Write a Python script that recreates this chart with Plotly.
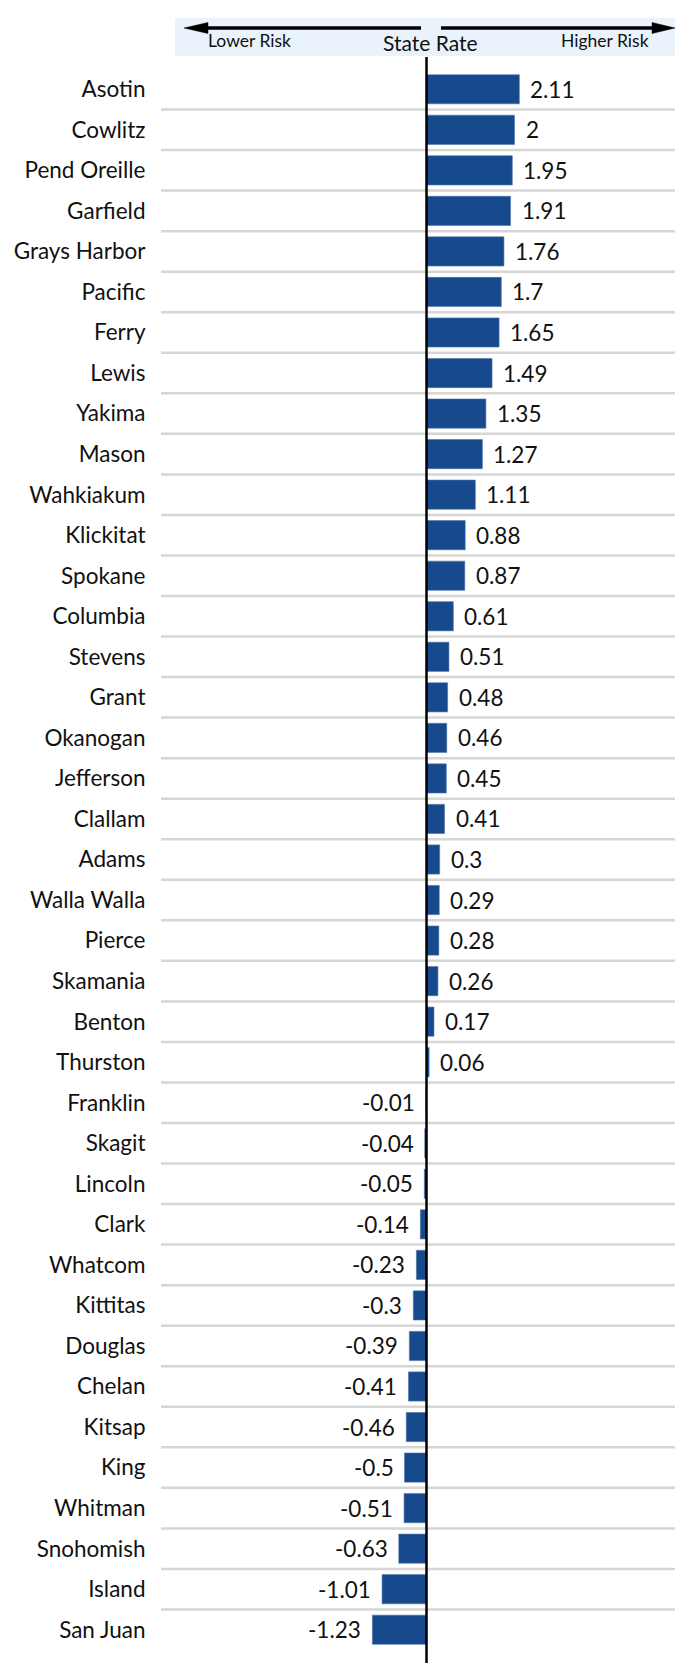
import plotly.graph_objects as go

counties = ["Asotin", "Cowlitz", "Pend Oreille", "Garfield", "Grays Harbor", "Pacific", "Ferry",
            "Lewis", "Yakima", "Mason", "Wahkiakum", "Klickitat", "Spokane", "Columbia", "Stevens",
            "Grant", "Okanogan", "Jefferson", "Clallam", "Adams", "Walla Walla", "Pierce", "Skamania",
            "Benton", "Thurston", "Franklin", "Skagit", "Lincoln", "Clark", "Whatcom", "Kittitas",
            "Douglas", "Chelan", "Kitsap", "King", "Whitman", "Snohomish", "Island", "San Juan"]
values = [2.11, 2, 1.95, 1.91, 1.76, 1.7, 1.65, 1.49, 1.35, 1.27, 1.11, 0.88, 0.87, 0.61, 0.51,
          0.48, 0.46, 0.45, 0.41, 0.3, 0.29, 0.28, 0.26, 0.17, 0.06, -0.01, -0.04, -0.05, -0.14,
          -0.23, -0.3, -0.39, -0.41, -0.46, -0.5, -0.51, -0.63, -1.01, -1.23]

W, H = 683, 1663
L, R, T, B = 153, 0, 61, 21
PW, PH = W - L - R, H - T - B
FONT = "Lato"

def px(x):
    return (x - L) / PW

def py(y):
    return 1 - (y - T) / PH

n = len(counties)
fig = go.Figure()
fig.add_trace(go.Bar(
    x=values, y=counties, orientation="h", width=0.72,
    marker=dict(color="#164a8c", line=dict(color="#4f74aa", width=0.6)),
    hoverinfo="skip",
))

annotations = []
for c, v in zip(counties, values):
    annotations.append(dict(
        x=v, y=c, xref="x", yref="y", text=f"{v:g}", showarrow=False,
        xanchor="left" if v >= 0 else "right", xshift=9 if v >= 0 else -9,
        font=dict(family=FONT, size=22.5, color="#111111"),
    ))

annotations += [
    dict(x=px(241), y=py(33), xref="paper", yref="paper", text="Lower Risk", showarrow=False,
         xanchor="center", yanchor="middle", font=dict(family=FONT, size=17.5, color="#111111")),
    dict(x=px(422), y=py(34.5), xref="paper", yref="paper", text="State Rate", showarrow=False,
         xanchor="center", yanchor="middle", font=dict(family=FONT, size=21, color="#111111")),
    dict(x=px(597), y=py(33), xref="paper", yref="paper", text="Higher Risk", showarrow=False,
         xanchor="center", yanchor="middle", font=dict(family=FONT, size=17.5, color="#111111")),
]

shapes = []
# header band
shapes.append(dict(type="rect", xref="paper", yref="paper", x0=px(167), x1=px(683), y0=py(48), y1=py(10),
                   fillcolor="#eaf3fb", line=dict(width=0), layer="below"))
# arrow lines
shapes.append(dict(type="line", xref="paper", yref="paper", x0=px(413), x1=px(196), y0=py(20), y1=py(20),
                   line=dict(color="black", width=3.5)))
shapes.append(dict(type="line", xref="paper", yref="paper", x0=px(433), x1=px(648), y0=py(20), y1=py(20),
                   line=dict(color="black", width=3.5)))
# arrowheads
shapes.append(dict(type="path", xref="paper", yref="paper",
                   path=f"M {px(176)},{py(20)} L {px(200)},{py(14.5)} L {px(200)},{py(25.5)} Z",
                   fillcolor="black", line=dict(color="black", width=0.5)))
shapes.append(dict(type="path", xref="paper", yref="paper",
                   path=f"M {px(667)},{py(20)} L {px(644)},{py(14.5)} L {px(644)},{py(25.5)} Z",
                   fillcolor="black", line=dict(color="black", width=0.5)))
# gridlines between rows
for i in range(n - 1):
    shapes.append(dict(type="line", xref="paper", yref="y", x0=0, x1=1, y0=i + 0.5, y1=i + 0.5,
                       line=dict(color="#d6d6d6", width=2.5), layer="below"))
# zero axis line
shapes.append(dict(type="line", xref="x", yref="paper", x0=0, x1=0, y0=py(H), y1=py(49),
                   line=dict(color="black", width=2.5)))

fig.update_layout(
    width=W, height=H,
    margin=dict(l=L, r=R, t=T, b=B, pad=0),
    plot_bgcolor="white", paper_bgcolor="white",
    showlegend=False,
    xaxis=dict(range=[-(418.5 - L) / 44, (W - R - 418.5) / 44], showgrid=False, zeroline=False,
               showticklabels=False, showline=False, fixedrange=True),
    yaxis=dict(type="category", categoryorder="array", categoryarray=counties,
               range=[n - 0.5, -0.5], showgrid=False, zeroline=False, showline=False,
               ticks="outside", ticklen=10, tickcolor="rgba(0,0,0,0)",
               tickfont=dict(family=FONT, size=22.5, color="#111111")),
    annotations=annotations,
    shapes=shapes,
)

fig.write_html("out.html")
